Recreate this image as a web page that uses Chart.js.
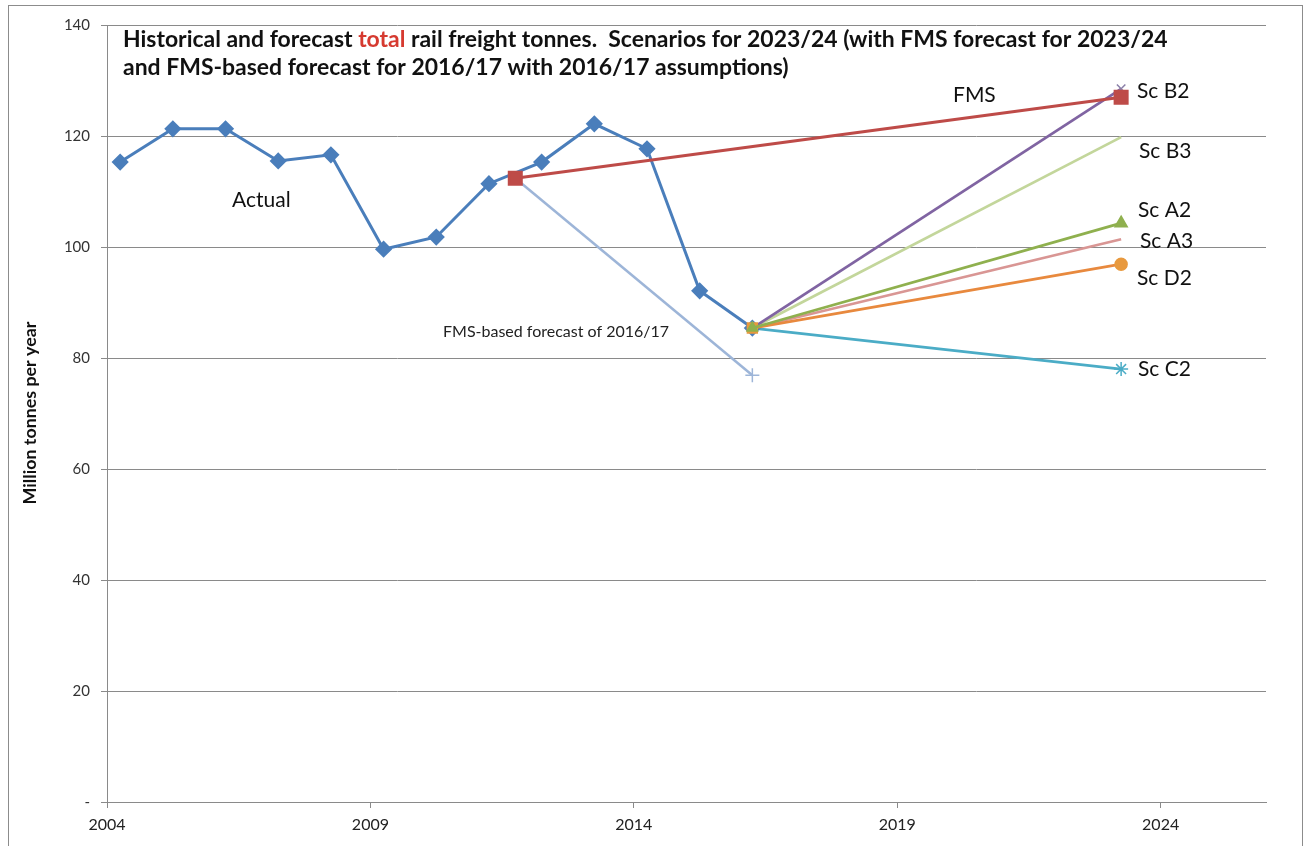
<!DOCTYPE html>
<html>
<head>
<meta charset="utf-8">
<title>Rail freight tonnes</title>
<script src="https://cdn.jsdelivr.net/npm/chart.js@4.4.0/dist/chart.umd.min.js"></script>
<style>
  html, body { margin: 0; padding: 0; background: #fff; }
  #wrap { position: relative; width: 1308px; height: 846px; }
</style>
</head>
<body>
<div id="wrap"><canvas id="freightChart" width="1308" height="846"></canvas></div>
<script>
// ── data ───────────────────────────────────────────────────
const actualYears  = [2004.25, 2005.25, 2006.25, 2007.25, 2008.25, 2009.25, 2010.25,
                      2011.25, 2012.25, 2013.25, 2014.25, 2015.25, 2016.25];
const actualTonnes = [115.3, 121.3, 121.3, 115.5, 116.6, 99.6, 101.8,
                      111.4, 115.3, 122.2, 117.7, 92.1, 85.4];

const fmsYears  = [2011.75, 2023.25];
const fmsTonnes = [112.4, 127.0];

const fmsBasedYears  = [2011.75, 2016.25];
const fmsBasedTonnes = [112.4, 76.9];

const scenarioYears = [2016.25, 2023.25];
const scenarioNames = ['Sc B2', 'Sc B3', 'Sc A2', 'Sc A3', 'Sc D2', 'Sc C2'];
const scenarioStart = 85.4;
const scenarioEnd   = [128.5, 119.8, 104.3, 101.4, 96.9, 78.0];

const xTicks = [2004, 2009, 2014, 2019, 2024];
const yTicks = [0, 20, 40, 60, 80, 100, 120, 140];

// ── styling ────────────────────────────────────────────────
const FONT = 'Lato, "Open Sans", sans-serif';
const GRID = '#8a8a8a';

const scenarioStyle = {
  'Sc B2': { color: '#8064A2', style: 'crossRot', marker: '#8A7FA8', radius: [0, 6], order: 3 },
  'Sc B3': { color: '#C3D69B', style: 'circle',   marker: '#C3D69B', radius: [0, 0], order: 4 },
  'Sc A2': { color: '#8FB04E', style: 'triangle', marker: '#8FB04E', radius: [6, 7], order: -2 },
  'Sc A3': { color: '#D99694', style: 'circle',   marker: '#D99694', radius: [0, 0], order: 5 },
  'Sc D2': { color: '#E8893E', style: ['rect', 'circle'], marker: '#E8993E', radius: [7, 6], order: -1 },
  'Sc C2': { color: '#4BACC6', style: 'star',     marker: '#4BACC6', radius: [0, 7], order: 6 }
};

function pts(xs, ys) {
  return xs.map((x, i) => ({ x: x, y: ys[i] }));
}

const datasets = [
  {
    label: 'FMS',
    data: pts(fmsYears, fmsTonnes),
    borderColor: '#BE4B48', borderWidth: 3,
    pointStyle: 'rect', pointRadius: 8.5,
    pointBackgroundColor: '#BE4B48', pointBorderColor: '#BE4B48',
    order: 0
  },
  {
    label: 'Actual',
    data: pts(actualYears, actualTonnes),
    borderColor: '#4A7EBB', borderWidth: 3,
    pointStyle: 'rectRot', pointRadius: 6.5,
    pointBackgroundColor: '#4A7EBB', pointBorderColor: '#4A7EBB',
    order: 1
  },
  {
    label: 'FMS-based forecast of 2016/17',
    data: pts(fmsBasedYears, fmsBasedTonnes),
    borderColor: '#9DB5D8', borderWidth: 2.5,
    pointStyle: 'cross', pointRadius: [0, 7], pointBorderWidth: 1.5,
    pointBorderColor: '#9DB5D8',
    order: 2
  }
];

scenarioNames.forEach((name, i) => {
  const s = scenarioStyle[name];
  datasets.push({
    label: name,
    data: pts(scenarioYears, [scenarioStart, scenarioEnd[i]]),
    borderColor: s.color, borderWidth: 2.75,
    pointStyle: s.style, pointRadius: s.radius, pointBorderWidth: 1.5,
    pointBackgroundColor: s.marker, pointBorderColor: s.marker,
    order: s.order
  });
});

// ── text, frame ────────────────────────────────────────────
function fitSize(ctx, text, weight, target) {
  ctx.font = weight + ' 20px ' + FONT;
  return 20 * target / ctx.measureText(text).width;
}

function drawRuns(ctx, runs, x, y) {
  runs.forEach(r => {
    ctx.fillStyle = r.color;
    ctx.fillText(r.text, x, y);
    x += ctx.measureText(r.text).width;
  });
}

const textPlugin = {
  id: 'freightText',
  beforeDraw(chart) {
    const ctx = chart.ctx;
    ctx.save();
    ctx.fillStyle = '#fff';
    ctx.fillRect(0, 0, chart.width, chart.height);
    ctx.strokeStyle = '#8c8c8c';
    ctx.lineWidth = 1;
    ctx.strokeRect(8.5, 5.5, 1294, 900);
    ctx.restore();
  },
  afterDraw(chart) {
    const ctx = chart.ctx;
    ctx.save();
    ctx.textBaseline = 'alphabetic';
    ctx.textAlign = 'left';

    // title
    const line1a = 'Historical and forecast ';
    const line1b = 'total';
    const line1c = ' rail freight tonnes.  Scenarios for 2023/24 (with FMS forecast for 2023/24';
    const size = fitSize(ctx, line1a + line1b + line1c, 'bold', 1045);
    ctx.font = 'bold ' + size.toFixed(2) + 'px ' + FONT;
    drawRuns(ctx, [
      { text: line1a, color: '#111' },
      { text: line1b, color: '#D63A30' },
      { text: line1c, color: '#111' }
    ], 123, 47);
    drawRuns(ctx, [{ text: 'and FMS-based forecast for 2016/17 with 2016/17 assumptions)', color: '#111' }], 123, 75);

    // series labels
    ctx.fillStyle = '#111';
    ctx.font = '21px ' + FONT;
    ctx.fillText('Actual', 232, 207);
    ctx.fillText('FMS', 953, 102);
    const lab = [[1137, 98], [1139, 158], [1138, 217], [1140, 248], [1137, 285], [1138, 376]];
    scenarioNames.forEach((n, i) => ctx.fillText(n, lab[i][0], lab[i][1]));
    ctx.font = '16px ' + FONT;
    ctx.fillStyle = '#222';
    ctx.fillText('FMS-based forecast of 2016/17', 443, 337);

    // y axis title
    const yt = 'Million tonnes per year';
    const ys = fitSize(ctx, yt, 'bold', 183);
    ctx.translate(36, 413);
    ctx.rotate(-Math.PI / 2);
    ctx.textAlign = 'center';
    ctx.font = 'bold ' + ys.toFixed(2) + 'px ' + FONT;
    ctx.fillStyle = '#111';
    ctx.fillText(yt, 0, 0);
    ctx.restore();
  }
};

new Chart(document.getElementById('freightChart'), {
  type: 'line',
  data: { datasets: datasets },
  options: {
    responsive: false,
    animation: false,
    devicePixelRatio: 1,
    events: [],
    layout: { padding: { left: 0, right: 42, top: 25, bottom: 0 } },
    plugins: { legend: { display: false }, tooltip: { enabled: false } },
    elements: { line: { tension: 0 } },
    scales: {
      x: {
        type: 'linear',
        min: 2004, max: 2026,
        afterFit: s => { s.height = 44; },
        afterBuildTicks: s => { s.ticks = xTicks.map(v => ({ value: v })); },
        ticks: {
          callback: v => String(v),
          font: { family: FONT, size: 16 },
          color: '#222',
          padding: 7,
          maxRotation: 0
        },
        grid: { drawOnChartArea: false, drawTicks: true, tickLength: 6, tickColor: GRID },
        border: { color: GRID }
      },
      y: {
        min: 0, max: 140,
        afterFit: s => { s.width = 107; },
        afterBuildTicks: s => { s.ticks = yTicks.map(v => ({ value: v })); },
        ticks: {
          callback: v => (v === 0 ? '-' : String(v)),
          font: { family: FONT, size: 15 },
          color: '#333',
          padding: 11
        },
        grid: { color: GRID, lineWidth: 1, tickLength: 6, tickColor: GRID },
        border: { color: GRID }
      }
    }
  },
  plugins: [textPlugin]
});
</script>
</body>
</html>
